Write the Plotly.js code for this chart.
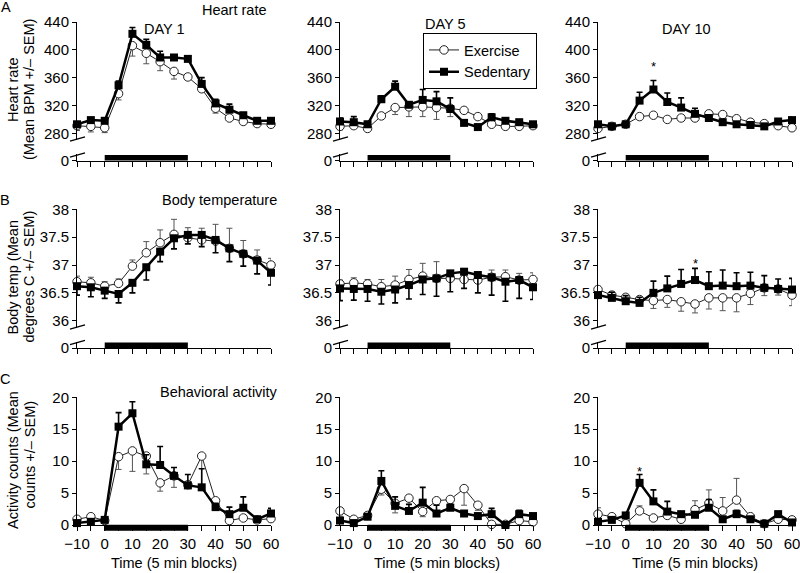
<!DOCTYPE html>
<html><head><meta charset="utf-8">
<script src="https://cdn.plot.ly/plotly-3.0.1.min.js"></script>
<style>html,body{margin:0;padding:0;background:#fff}#chart{width:800px;height:573px}</style>
</head><body><div id="chart"></div>
<script>
// ---------- data ----------
const times = [-10,-5,0,5,10,15,20,25,30,35,40,45,50,55,60];
const xTickLabels = ['\u221210','','0','','10','','20','','30','','40','','50','','60'];
const exercisePeriod = [0, 30];
const hrTicks = [280,320,360,400,440];
const tempTicks = [36,36.5,37,37.5,38];
const actTicks = [0,5,10,15,20];
const dayLabels = ['DAY 1','DAY 5','DAY 10'];
const seriesNames = ['Exercise','Sedentary'];

// Heart rate (BPM)
const hrExDay1 = [291,290,288,337,406,395,383,369,361,344,316,302,297,294,293];
const hrExDay1Sem = [7,8,7,9,15,15,13,11,4,4,7,3,3,3,3];
const hrSedDay1 = [293,299,298,349,423,407,389,389,387,351,323,314,306,298,298];
const hrSedDay1Sem = [2,3,3,6,9,8,9,2,2,9,6,8,3,2,2];
const hrExDay5 = [290,291,287,305,317,318,318,317,316,313,304,293,290,290,291];
const hrExDay5Sem = [5,4,3,3,10,14,14,17,12,4,4,3,3,3,3];
const hrSedDay5 = [297,296,293,329,347,321,328,326,315,295,289,303,298,296,293];
const hrSedDay5Sem = [5,8,4,5,8,3,15,14,16,3,3,5,4,3,3];
const hrExDay10 = [287,290,293,304,306,300,302,302,308,307,301,296,294,291,288];
const hrExDay10Sem = [4,3,3,4,4,3,4,4,3,3,3,3,3,3,3];
const hrSedDay10 = [293,290,293,327,343,325,317,308,302,296,293,292,290,297,299];
const hrSedDay10Sem = [3,3,3,12,13,13,14,8,3,3,3,3,3,4,4];

// Body temperature (deg C)
const tempExDay1 = [36.70,36.68,36.62,36.67,36.98,37.22,37.40,37.55,37.49,37.45,37.43,37.30,37.20,37.09,37.00];
const tempExDay1Sem = [0.10,0.10,0.08,0.08,0.11,0.20,0.23,0.27,0.18,0.21,0.30,0.36,0.24,0.18,0.12];
const tempSedDay1 = [36.62,36.60,36.54,36.48,36.68,36.96,37.24,37.48,37.54,37.54,37.45,37.30,37.20,37.08,36.86];
const tempSedDay1Sem = [0.16,0.17,0.14,0.16,0.18,0.23,0.18,0.19,0.16,0.21,0.23,0.24,0.22,0.24,0.22];
const tempExDay5 = [36.66,36.68,36.66,36.61,36.64,36.74,36.80,36.76,36.76,36.74,36.73,36.78,36.79,36.73,36.74];
const tempExDay5Sem = [0.07,0.09,0.08,0.13,0.16,0.18,0.23,0.30,0.10,0.10,0.10,0.13,0.12,0.12,0.12];
const tempSedDay5 = [36.58,36.57,36.57,36.52,36.56,36.64,36.74,36.76,36.85,36.88,36.82,36.78,36.70,36.73,36.60];
const tempSedDay5Sem = [0.22,0.20,0.22,0.22,0.24,0.25,0.27,0.32,0.33,0.30,0.32,0.32,0.35,0.33,0.22];
const tempExDay10 = [36.56,36.46,36.42,36.38,36.36,36.38,36.34,36.30,36.41,36.41,36.41,36.49,36.59,36.57,36.46];
const tempExDay10Sem = [0.05,0.06,0.08,0.10,0.14,0.14,0.17,0.16,0.20,0.23,0.25,0.20,0.14,0.11,0.19];
const tempSedDay10 = [36.46,36.41,36.35,36.32,36.50,36.58,36.66,36.73,36.62,36.63,36.62,36.63,36.59,36.57,36.56];
const tempSedDay10Sem = [0.05,0.10,0.10,0.10,0.21,0.22,0.26,0.21,0.26,0.28,0.24,0.24,0.22,0.18,0.20];

// Behavioral activity (counts)
const actExDay1 = [0.9,1.3,0.7,10.7,11.6,10.8,6.6,7.7,6.3,10.8,3.8,0.7,1.1,0.8,1.0];
const actExDay1Sem = [0.3,0.3,0.3,2.0,3.2,2.8,1.3,1.8,0.5,4.5,1.2,0.3,0.3,0.3,0.3];
const actSedDay1 = [0.3,0.5,0.8,15.4,17.5,9.5,9.4,7.7,6.2,5.9,2.8,1.7,2.7,0.9,1.8];
const actSedDay1Sem = [0.3,0.4,0.3,2.2,1.8,1.5,2.9,1.3,1.7,2.9,0.6,1.1,1.7,0.3,0.8];
const actExDay5 = [2.2,0.9,1.5,5.6,3.4,4.2,2.1,3.8,4.0,5.7,3.1,0.1,0.1,0.7,0.5];
const actExDay5Sem = [0.6,0.3,0.3,0.9,1.5,0.9,0.8,0.6,0.6,2.6,0.8,0.1,0.1,0.3,0.3];
const actSedDay5 = [0.7,0.3,1.3,6.9,3.0,2.2,3.5,1.8,2.7,1.8,1.4,1.7,0.0,1.7,1.4];
const actSedDay5Sem = [0.5,0.3,0.3,1.6,1.4,1.0,2.4,1.3,0.5,0.3,0.4,0.9,0.2,0.6,0.4];
const actExDay10 = [1.7,1.3,0.2,2.2,1.1,1.5,0.9,2.4,3.4,2.2,3.9,1.3,0.2,0.9,0.8];
const actExDay10Sem = [1.0,0.3,0.2,0.8,0.4,0.3,0.3,1.4,2.1,2.1,3.4,0.3,0.1,0.3,0.3];
const actSedDay10 = [0.5,0.8,1.5,6.6,3.7,2.1,1.7,1.6,2.7,0.9,1.7,0.9,0.2,1.7,0.4];
const actSedDay10Sem = [0.2,0.3,0.3,1.3,1.8,1.6,0.3,0.3,1.3,0.3,0.6,0.3,0.1,0.4,0.3];

// significance markers (time, level)
const hrStar = [10, 380];
const tempStar = [25, 37.08];
const actStar = [5, 8.9];

// ---------- layout geometry ----------
const W = 800, H = 573;
const FONT = 'Liberation Sans, Arial, Helvetica, sans-serif';
const fx = p => p / W;
const fy = p => 1 - p / H;
const colPx = [[77, 271], [340, 533], [598, 792]];
const rows = [
  {upper: [140, 22], range: [270.4, 440], ticks: hrTicks, lower: [160.5, 154], breaks: [139, 155]},
  {upper: [327.5, 209.3], range: [35.878, 38], ticks: tempTicks, lower: [348, 341.5], breaks: [327, 342.5]},
  {upper: [525, 397.3], range: [0, 20], ticks: actTicks, lower: null}
];

const panels = [
  [hrExDay1, hrExDay1Sem, hrSedDay1, hrSedDay1Sem, false, true],
  [hrExDay5, hrExDay5Sem, hrSedDay5, hrSedDay5Sem, false, true],
  [hrExDay10, hrExDay10Sem, hrSedDay10, hrSedDay10Sem, false, true],
  [tempExDay1, tempExDay1Sem, tempSedDay1, tempSedDay1Sem, true, false],
  [tempExDay5, tempExDay5Sem, tempSedDay5, tempSedDay5Sem, true, false],
  [tempExDay10, tempExDay10Sem, tempSedDay10, tempSedDay10Sem, false, true],
  [actExDay1, actExDay1Sem, actSedDay1, actSedDay1Sem, false, true],
  [actExDay5, actExDay5Sem, actSedDay5, actSedDay5Sem, false, true],
  [actExDay10, actExDay10Sem, actSedDay10, actSedDay10Sem, true, true]
];

function errBars(sem, up, color, thick) {
  const zero = sem.map(() => 0);
  return {type: 'data', symmetric: false, array: up ? sem : zero, arrayminus: up ? zero : sem,
          color: color, thickness: thick, width: 3};
}

const traces = [];
const layout = {
  width: W, height: H, margin: {l: 0, r: 0, t: 0, b: 0},
  paper_bgcolor: '#fff', plot_bgcolor: 'rgba(0,0,0,0)',
  font: {family: FONT, size: 14.5, color: '#000'},
  showlegend: true,
  legend: {x: fx(423), y: fy(33), xanchor: 'left', yanchor: 'top', bgcolor: '#fff',
           bordercolor: '#000', borderwidth: 1, font: {family: FONT, size: 14.5},
           itemwidth: 30, tracegroupgap: 0},
  shapes: [], annotations: []
};

function axisBase() {
  return {showline: true, linecolor: '#000', linewidth: 1, ticks: 'outside', tickwidth: 1,
          tickcolor: '#000', tickmode: 'array', showgrid: false, zeroline: false, fixedrange: true,
          ticklabeloverflow: 'allow', tickfont: {family: FONT, size: 15, color: '#000'}};
}

rows.forEach((row, r) => {
  colPx.forEach((cp, c) => {
    const n = r * 3 + c + 1;
    const lowerN = 9 + r * 3 + c + 1;
    layout['xaxis' + n] = Object.assign(axisBase(), {
      domain: [fx(cp[0]), fx(cp[1])], range: [-10, 60], anchor: row.lower ? 'y' + lowerN : 'y' + n,
      ticklen: 5, tickvals: times, ticktext: xTickLabels, showticklabels: r === 2
    });
    layout['yaxis' + n] = Object.assign(axisBase(), {
      domain: [fy(row.upper[0]), fy(row.upper[1])], range: row.range, anchor: 'x' + n,
      ticklen: 4, tickvals: row.ticks
    });
    if (row.lower) {
      layout['yaxis' + lowerN] = Object.assign(axisBase(), {
        domain: [fy(row.lower[0]), fy(row.lower[1])], range: [0, 1], anchor: 'x' + n,
        ticklen: 4, tickvals: [0]
      });
      // empty trace so that the lower (zero) subplot is created
      traces.push({type: 'scatter', mode: 'markers', x: [], y: [], xaxis: 'x' + n, yaxis: 'y' + lowerN,
                   showlegend: false, hoverinfo: 'skip'});
      // exercise-period bar resting on the axis
      layout.shapes.push({type: 'rect', xref: 'x' + n, yref: 'y' + lowerN + ' domain',
        x0: exercisePeriod[0], x1: exercisePeriod[1], y0: 0, y1: 0.85,
        fillcolor: '#000', line: {width: 0}, layer: 'above'});
      // axis break slashes
      row.breaks.forEach(by => {
        layout.shapes.push({type: 'line', xref: 'paper', yref: 'paper',
          x0: fx(cp[0] - 7), x1: fx(cp[0] + 8), y0: fy(by + 2.2), y1: fy(by - 2.2),
          line: {color: '#000', width: 1.3}});
      });
    } else {
      const hpx = row.upper[0] - row.upper[1];
      layout.shapes.push({type: 'rect', xref: 'x' + n, yref: 'y' + n + ' domain',
        x0: exercisePeriod[0], x1: exercisePeriod[1], y0: -5.5 / hpx, y1: 0,
        fillcolor: '#000', line: {color: '#000', width: 0.5}, layer: 'above'});
    }
    const p = panels[n - 1];
    traces.push({
      type: 'scatter', mode: 'lines+markers', name: seriesNames[0], x: times, y: p[0],
      xaxis: 'x' + n, yaxis: 'y' + n, cliponaxis: false, showlegend: n === 1, legendrank: 1,
      line: {color: '#222', width: 1},
      marker: {symbol: 'circle', size: 8.5, color: '#fff', line: {color: '#222', width: 1}},
      error_y: errBars(p[1], p[4], '#555', 1)
    });
    traces.push({
      type: 'scatter', mode: 'lines+markers', name: seriesNames[1], x: times, y: p[2],
      xaxis: 'x' + n, yaxis: 'y' + n, cliponaxis: false, showlegend: n === 1, legendrank: 2,
      line: {color: '#000', width: 2.5},
      marker: {symbol: 'square', size: 8, color: '#000'},
      error_y: errBars(p[3], p[5], '#000', 1.6)
    });
  });
});

// text annotations
function txt(text, x, y, opts) {
  return Object.assign({text: text, xref: 'paper', yref: 'paper', x: fx(x), y: fy(y),
    showarrow: false, xanchor: 'center', yanchor: 'middle',
    font: {family: FONT, size: 14.5, color: '#000'}}, opts || {});
}
const A = layout.annotations;
A.push(txt('A', 5.5, 7));
A.push(txt('B', 5, 200));
A.push(txt('C', 5, 379));
A.push(txt('Heart rate', 200, 10, {xanchor: 'left'}));
A.push(txt('Body temperature', 160, 200, {xanchor: 'left'}));
A.push(txt('Behavioral activity', 158, 392, {xanchor: 'left'}));
A.push(txt(dayLabels[0], 164, 29));
A.push(txt(dayLabels[1], 445.5, 24));
A.push(txt(dayLabels[2], 686, 29));
A.push(txt('Heart rate', 13, 90, {textangle: -90}));
A.push(txt('(Mean BPM +/\u2013 SEM)', 29, 90, {textangle: -90}));
A.push(txt('Body temp (Mean', 13, 277.5, {textangle: -90}));
A.push(txt('degrees C +/\u2013 SEM)', 29, 276.5, {textangle: -90}));
A.push(txt('Activity counts (Mean', 13, 460, {textangle: -90}));
A.push(txt('counts +/\u2013 SEM)', 29, 454.5, {textangle: -90}));
colPx.forEach(cp => A.push(txt('Time (5 min blocks)', (cp[0] + cp[1]) / 2, 563)));
[[3, hrStar], [6, tempStar], [9, actStar]].forEach(([n, s]) => {
  A.push({text: '*', xref: 'x' + n, yref: 'y' + n, x: s[0], y: s[1], showarrow: false,
    xanchor: 'center', yanchor: 'middle', yshift: -3, font: {family: FONT, size: 13, color: '#000'}});
});

Plotly.newPlot('chart', traces, layout, {staticPlot: true, displayModeBar: false});
</script></body></html>
